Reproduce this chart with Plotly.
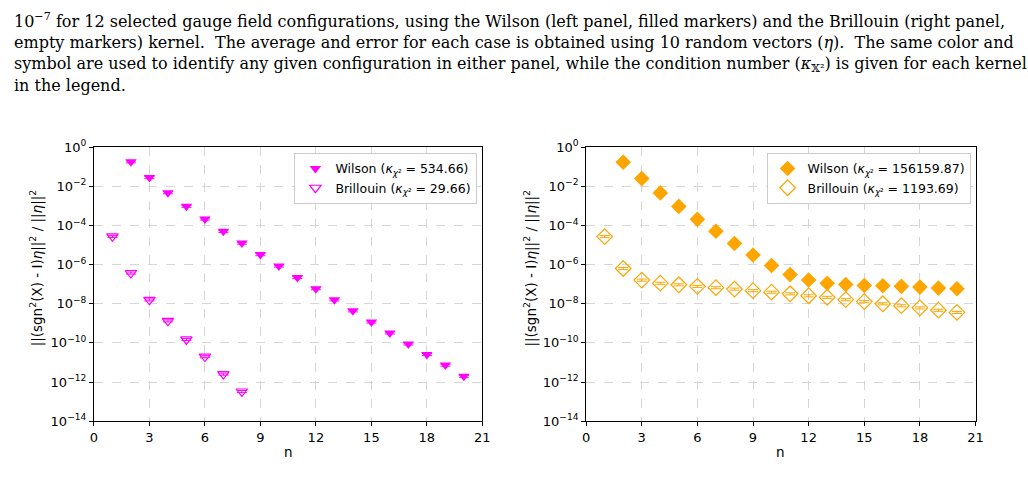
import plotly.graph_objects as go

n_wilson = list(range(2, 21))
n_bril_left = list(range(1, 9))
n_bril_right = list(range(1, 21))

# log10 values
left_wilson_log = [-0.75, -1.56, -2.33, -3.02, -3.67, -4.30, -4.90, -5.49, -6.07, -6.66,
                   -7.23, -7.80, -8.36, -8.93, -9.49, -10.05, -10.59, -11.13, -11.70]
left_bril_log = [-4.56, -6.43, -7.80, -8.87, -9.82, -10.70, -11.59, -12.48]
right_wilson_log = [-0.77, -1.61, -2.34, -3.03, -3.69, -4.30, -4.92, -5.51, -6.05, -6.51,
                    -6.79, -6.95, -7.02, -7.07, -7.08, -7.11, -7.15, -7.20, -7.23]
right_bril_log = [-4.57, -6.20, -6.79, -6.95, -7.03, -7.11, -7.18, -7.25, -7.33, -7.41,
                  -7.49, -7.59, -7.67, -7.79, -7.89, -8.00, -8.10, -8.21, -8.33, -8.44]

left_wilson = [10 ** v for v in left_wilson_log]
left_bril = [10 ** v for v in left_bril_log]
right_wilson = [10 ** v for v in right_wilson_log]
right_bril = [10 ** v for v in right_bril_log]

x_ticks = [0, 3, 6, 9, 12, 15, 18, 21]
y_exps = [0, -2, -4, -6, -8, -10, -12, -14]
y_tickvals = [10 ** e for e in y_exps]
y_ticktext = ["10<sup>%s</sup>" % (str(e).replace("-", "−")) for e in y_exps]

legend_left = ["Wilson (<i>κ</i><sub><i>χ</i>²</sub> = 534.66)", "Brillouin (<i>κ</i><sub><i>χ</i>²</sub> = 29.66)"]
legend_right = ["Wilson (<i>κ</i><sub><i>χ</i>²</sub> = 156159.87)", "Brillouin (<i>κ</i><sub><i>χ</i>²</sub> = 1193.69)"]

caption_lines = [
    "10<sup>−7</sup> for 12 selected gauge field configurations, using the Wilson (left panel, filled markers) and the Brillouin (right panel,",
    "empty markers) kernel.  The average and error for each case is obtained using 10 random vectors (<i>η</i>).  The same color and",
    "symbol are used to identify any given configuration in either panel, while the condition number (<i>κ</i><sub>𝕏²</sub>) is given for each kernel",
    "in the legend.",
]

MAG = "#ff00ff"
ORG = "#ffa500"
W, H = 1028, 493

def px(x):
    return x / W

def py(y):
    return (H - y) / H

fig = go.Figure()
err = dict(type="percent", value=12, thickness=1, width=5)

fig.add_trace(go.Scatter(x=n_wilson, y=left_wilson, mode="markers", name=legend_left[0],
                         marker=dict(symbol="triangle-down", size=10, color=MAG),
                         error_y=dict(err, color=MAG), xaxis="x", yaxis="y", legend="legend"))
fig.add_trace(go.Scatter(x=n_bril_left, y=left_bril, mode="markers", name=legend_left[1],
                         marker=dict(symbol="triangle-down-open", size=10, color=MAG, line=dict(width=1.2)),
                         error_y=dict(err, color=MAG), xaxis="x", yaxis="y", legend="legend"))
fig.add_trace(go.Scatter(x=n_wilson, y=right_wilson, mode="markers", name=legend_right[0],
                         marker=dict(symbol="diamond", size=12, color=ORG),
                         error_y=dict(err, color=ORG), xaxis="x2", yaxis="y2", legend="legend2"))
fig.add_trace(go.Scatter(x=n_bril_right, y=right_bril, mode="markers", name=legend_right[1],
                         marker=dict(symbol="diamond-open", size=12, color=ORG, line=dict(width=1.2)),
                         error_y=dict(err, color=ORG), xaxis="x2", yaxis="y2", legend="legend2"))

axis_common = dict(showline=True, linecolor="black", linewidth=1, mirror=True,
                   ticks="outside", ticklen=4, tickcolor="black", showgrid=True,
                   gridcolor="#d6d6d6", griddash="dash", gridwidth=1, zeroline=False,
                   tickfont=dict(family="DejaVu Sans", size=13, color="black"))

xdom_l = [px(91), px(484)]
xdom_r = [px(589), px(983)]
ydom = [py(427), py(143)]

fig.update_layout(
    width=W, height=H, margin=dict(l=0, r=0, t=0, b=0),
    paper_bgcolor="white", plot_bgcolor="white", showlegend=True,
    xaxis=dict(axis_common, domain=xdom_l, range=[0, 21], tickvals=x_ticks, anchor="y"),
    yaxis=dict(axis_common, domain=ydom, type="log", range=[-14, 0], tickvals=y_tickvals,
               ticktext=y_ticktext, anchor="x"),
    xaxis2=dict(axis_common, domain=xdom_r, range=[0, 21], tickvals=x_ticks, anchor="y2"),
    yaxis2=dict(axis_common, domain=ydom, type="log", range=[-14, 0], tickvals=y_tickvals,
                ticktext=y_ticktext, anchor="x2"),
    legend=dict(x=px(479), y=py(149), xanchor="right", yanchor="top", bgcolor="white",
                bordercolor="#cccccc", borderwidth=1,
                font=dict(family="DejaVu Sans", size=12.5, color="black"), tracegroupgap=0),
    legend2=dict(x=px(978), y=py(149), xanchor="right", yanchor="top", bgcolor="white",
                 bordercolor="#cccccc", borderwidth=1,
                 font=dict(family="DejaVu Sans", size=12.5, color="black"), tracegroupgap=0),
)

annotations = []
ylabel = "||(sgn<sup>2</sup>(X) - I)<i>η</i>||<sup>2</sup> / ||<i>η</i>||<sup>2</sup>"
for xc in (33, 533):
    annotations.append(dict(x=px(xc), y=py(268), xref="paper", yref="paper", text=ylabel,
                            textangle=-90, showarrow=False, xanchor="center", yanchor="middle",
                            font=dict(family="DejaVu Sans", size=13.5, color="black")))
for xc in ((91 + 484) / 2, (589 + 983) / 2):
    annotations.append(dict(x=px(xc), y=py(459), xref="paper", yref="paper", text="n",
                            showarrow=False, xanchor="center", yanchor="middle",
                            font=dict(family="DejaVu Sans", size=13.5, color="black")))
line_y = [12, 35, 57, 79]
for txt, yc in zip(caption_lines, line_y):
    annotations.append(dict(x=px(8), y=py(yc), xref="paper", yref="paper", text=txt,
                            showarrow=False, xanchor="left", yanchor="middle",
                            font=dict(family="DejaVu Serif", size=16, color="black")))
fig.update_layout(annotations=annotations)

fig.write_html("out.html")
